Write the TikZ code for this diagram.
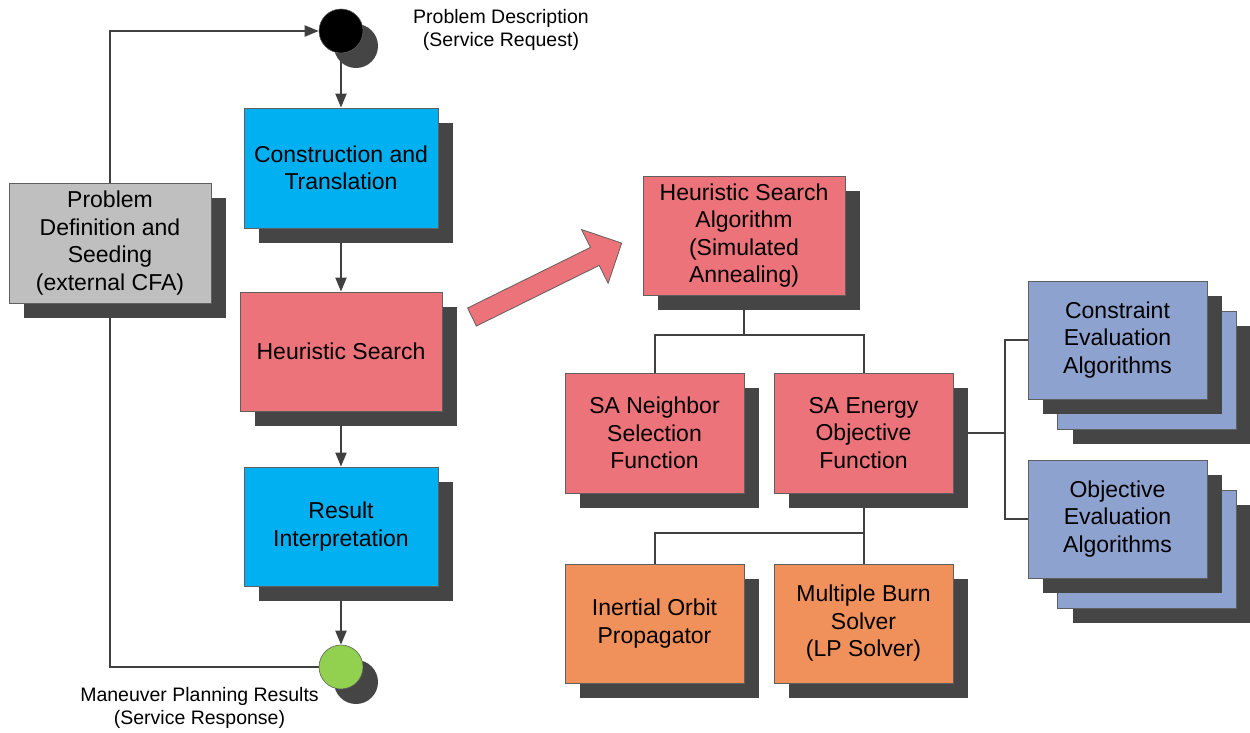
\documentclass[tikz,border=0pt]{standalone}
\usepackage{fontspec}
\setmainfont{Liberation Sans}
\usetikzlibrary{shadows,arrows.meta,backgrounds}
\definecolor{cblue}{HTML}{00B0F0}
\definecolor{cpink}{HTML}{EB7379}
\definecolor{corange}{HTML}{F0905A}
\definecolor{cgray}{HTML}{BFBFBF}
\definecolor{clav}{HTML}{8EA2D0}
\definecolor{cgreen}{HTML}{92D050}
\definecolor{shadowc}{HTML}{454545}
\definecolor{linec}{HTML}{404040}
\definecolor{bordc}{HTML}{5F5F5F}
\begin{document}
\begin{tikzpicture}[x=1pt,y=-1pt,
  boxbase/.style={draw=bordc, line width=0.8pt, inner sep=2pt, align=center,
    font=\fontsize{23}{27.5}\selectfont,
    drop shadow={shadow xshift=15pt, shadow yshift=-15pt, fill=shadowc, opacity=1}},
  bigbox/.style={boxbase, minimum width=#1pt, minimum height=120pt},
  smallbox/.style={boxbase, minimum width=179pt, minimum height=119pt},
  dot/.style={circle, draw=bordc, line width=0.6pt, minimum size=44pt, inner sep=0pt,
    drop shadow={shadow xshift=15pt, shadow yshift=-15pt, fill=shadowc, opacity=1}},
  lbl/.style={align=center, font=\fontsize{19.5}{23}\selectfont},
  conn/.style={draw=linec, line width=2pt},
  arr/.style={conn, -{Triangle[length=14pt,width=11pt]}}
]
\useasboundingbox (0,0) rectangle (1250,732);

% left flow
\node[dot, fill=black] (start) at (341,31) {};
\node[lbl] (lstart) at (501,29.5) {Problem Description\\(Service Request)};
\node[bigbox=194, fill=cblue] (ct) at (341,168) {Construction and\\Translation};
\node[bigbox=202, fill=cpink, minimum height=119pt] (hs) at (341,351.5) {Heuristic Search};
\node[bigbox=194, fill=cblue, minimum height=119pt] (ri) at (341,526.5) {Result\\Interpretation};
\node[dot, fill=cgreen] (stop) at (341,667) {};
\node[lbl] (lstop) at (199.5,707.5) {Maneuver Planning Results\\(Service Response)};
\node[bigbox=202, fill=cgray] (pd) at (110,243) {Problem\\Definition and\\Seeding\\(external CFA)};

% big arrow
\filldraw[fill=cpink, draw=bordc, line width=0.8pt]
  (467.6,308) -- (590.4,247.4) -- (581.5,229.5) -- (621.7,243.1)
  -- (608.1,283.3) -- (599.2,265.4) -- (476.4,326) -- cycle;

% right tree
\node[bigbox=202, fill=cpink, minimum height=119pt] (hsa) at (744,235.5) {Heuristic Search\\Algorithm\\(Simulated\\Annealing)};
\node[smallbox, fill=cpink, minimum height=120pt] (san) at (654.5,433) {SA Neighbor\\Selection\\Function};
\node[smallbox, fill=cpink, minimum height=120pt] (sae) at (863.5,433) {SA Energy\\Objective\\Function};
\node[smallbox, fill=corange] (iop) at (654.5,623.5) {Inertial Orbit\\Propagator};
\node[smallbox, fill=corange] (mbs) at (863.5,623.5) {Multiple Burn\\Solver\\(LP Solver)};

\node[smallbox, fill=clav, minimum height=118pt] (cea2) at (1147,370) {};
\node[smallbox, fill=clav, minimum height=118pt] (cea) at (1117.5,340) {Constraint\\Evaluation\\Algorithms};
\node[smallbox, fill=clav, minimum height=118pt] (oea2) at (1147,549) {};
\node[smallbox, fill=clav, minimum height=118pt] (oea) at (1117.5,519) {Objective\\Evaluation\\Algorithms};

\begin{scope}[on background layer]
  \draw[arr] (start.south) -- (ct.north);
  \draw[arr] (ct.south) -- (hs.north);
  \draw[arr] (hs.south) -- (ri.north);
  \draw[arr] (ri.south) -- (stop.north);
  \draw[arr] (pd.north) |- (start.west);
  \draw[arr] (stop.west) -| (pd.south);

  \draw[conn] (hsa.south) -- ++(0,40) coordinate (hj) -| (san.north);
  \draw[conn] (hj) -| (sae.north);
  \draw[conn] (sae.south) -- ++(0,40) coordinate (sj) -| (iop.north);
  \draw[conn] (sj) -- (mbs.north);
  \draw[conn] (sae.east) -- ++(52,0) coordinate (rj);
  \draw[conn] (rj) |- (cea.west);
  \draw[conn] (rj) |- (oea.west);
\end{scope}
\end{tikzpicture}
\end{document}
